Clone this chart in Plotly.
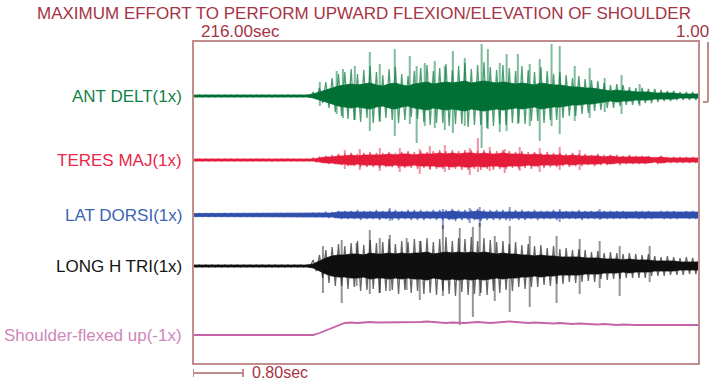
import plotly.graph_objects as go

# ---------------------------------------------------------------- data
# Sweep length (s) and sampling pitch of the envelope arrays (81 samples)
SWEEP_SEC = 8.1
N_SAMPLES = 81

# Outer excursion (upper / lower) of each EMG trace, one value per sample
ANT_DELT_UP = [1, 1, 1, 1, 1, 1, 1, 1, 1, 1, 1, 1, 1, 1, 1, 1, 1, 1, 1,
               4, 8, 14, 18, 22, 24, 27, 22, 26, 30, 24, 21, 27, 29, 22, 20, 25, 28, 31, 25,
               28, 32, 26, 30, 33, 27, 31, 34, 29, 26, 31, 28, 25, 30, 26, 24, 29, 25, 22, 24,
               21, 18, 20, 17, 16, 15, 13, 11, 12, 11, 9, 8, 8, 7, 7, 6, 5, 5, 4, 4, 4, 4]
ANT_DELT_DN = [1, 1, 1, 1, 1, 1, 1, 1, 1, 1, 1, 1, 1, 1, 1, 1, 1, 1, 1,
               3, 7, 12, 16, 20, 23, 24, 26, 22, 27, 25, 22, 24, 27, 24, 21, 23, 26, 29, 27,
               27, 30, 28, 28, 31, 29, 29, 32, 30, 28, 29, 27, 27, 28, 25, 25, 27, 24, 24, 22,
               20, 20, 18, 17, 15, 14, 12, 12, 10, 9, 9, 8, 7, 7, 6, 5, 5, 4, 4, 4, 4, 4]
# Half-height of the dense dark core
ANT_DELT_CORE = [1, 1, 1, 1, 1, 1, 1, 1, 1, 1, 1, 1, 1, 1, 1, 1, 1, 1, 1,
                 2, 4, 6, 8, 10, 11, 12, 11, 12, 13, 11, 10, 12, 13, 11, 10, 12, 13, 14, 12,
                 13, 14, 13, 14, 15, 13, 14, 15, 14, 13, 14, 13, 12, 13, 12, 11, 13, 12, 11, 11,
                 10, 9, 9, 8, 8, 7, 6, 5, 6, 5, 5, 4, 4, 4, 3, 3, 3, 3, 2, 2, 2, 2]

TERES_UP = [1, 1, 1, 1, 1, 1, 1, 1, 1, 1, 1, 1, 1, 1, 1, 1, 1, 1, 1,
            2, 3, 4, 5, 6, 6, 7, 6, 7, 8, 7, 7, 8, 7, 8, 9, 8, 9, 8, 9,
            10, 9, 10, 9, 10, 10, 9, 10, 9, 9, 10, 9, 8, 9, 8, 8, 7, 8, 7, 7,
            6, 7, 6, 6, 5, 6, 5, 5, 5, 4, 5, 4, 4, 4, 3, 4, 3, 3, 3, 3, 3, 3]
TERES_DN = [1, 1, 1, 1, 1, 1, 1, 1, 1, 1, 1, 1, 1, 1, 1, 1, 1, 1, 1,
            2, 3, 4, 4, 5, 6, 6, 7, 7, 7, 8, 7, 7, 8, 8, 8, 9, 8, 9, 9,
            9, 10, 9, 10, 10, 9, 10, 9, 10, 9, 9, 8, 9, 8, 9, 7, 8, 7, 7, 6,
            7, 6, 6, 5, 6, 5, 5, 4, 5, 4, 4, 4, 4, 3, 4, 3, 3, 3, 3, 3, 3, 3]
TERES_CORE = [1, 1, 1, 1, 1, 1, 1, 1, 1, 1, 1, 1, 1, 1, 1, 1, 1, 1, 1,
              1, 2, 3, 3, 4, 4, 5, 4, 5, 5, 5, 5, 6, 5, 6, 6, 5, 6, 6, 6,
              7, 6, 7, 6, 7, 7, 6, 7, 6, 6, 7, 6, 6, 6, 5, 6, 5, 5, 5, 5,
              4, 5, 4, 4, 4, 4, 3, 4, 3, 3, 3, 3, 3, 3, 2, 3, 2, 2, 2, 2, 2, 2]

LAT_DORSI_AMP = [1.5, 1.5, 1.5, 1.5, 1.5, 1.5, 1.5, 1.5, 1.5, 1.5, 1.5, 1.5, 1.5, 1.5, 1.5, 1.5, 1.5, 1.5, 1.5,
                 2, 2, 3, 3, 4, 4, 4, 5, 4, 4, 5, 4, 5, 5, 4, 5, 5, 5, 4, 5,
                 5, 5, 6, 5, 5, 5, 6, 5, 5, 5, 5, 4, 5, 5, 4, 5, 4, 4, 5, 4,
                 4, 4, 5, 4, 4, 4, 4, 4, 4, 4, 3, 4, 4, 4, 3, 4, 4, 4, 3, 4, 4, 4]
LAT_DORSI_CORE = [1.5, 1.5, 1.5, 1.5, 1.5, 1.5, 1.5, 1.5, 1.5, 1.5, 1.5, 1.5, 1.5, 1.5, 1.5, 1.5, 1.5, 1.5, 1.5,
                  2, 2, 2, 2, 3, 3, 3, 3, 3, 3, 3, 3, 3, 3, 3, 3, 3, 3, 3, 3,
                  3, 3, 4, 3, 3, 3, 4, 3, 3, 3, 3, 3, 3, 3, 3, 3, 3, 3, 3, 3,
                  3, 3, 3, 3, 3, 3, 3, 3, 3, 3, 2.5, 3, 3, 3, 2.5, 3, 3, 3, 2.5, 3, 3, 3]

LONG_TRI_UP = [1, 1, 1, 1, 1, 1, 1, 1, 1, 1, 1, 1, 1, 1, 1, 1, 1, 1, 1,
               6, 11, 16, 19, 22, 20, 23, 25, 21, 26, 23, 24, 27, 22, 25, 24, 27, 25, 28, 24,
               27, 29, 25, 28, 27, 29, 25, 28, 26, 24, 25, 22, 24, 21, 22, 20, 21, 18, 20, 17,
               18, 16, 17, 16, 14, 15, 13, 14, 13, 12, 13, 12, 11, 12, 10, 9, 10, 9, 8, 9, 8, 8]
LONG_TRI_DN = [1, 1, 1, 1, 1, 1, 1, 1, 1, 1, 1, 1, 1, 1, 1, 1, 1, 1, 1,
               5, 12, 17, 20, 20, 23, 21, 25, 24, 23, 27, 25, 24, 28, 24, 27, 25, 28, 27, 29,
               25, 28, 30, 26, 29, 28, 27, 29, 25, 27, 24, 25, 21, 23, 21, 21, 19, 20, 18, 18,
               16, 17, 16, 15, 16, 13, 14, 13, 13, 12, 12, 12, 12, 10, 10, 10, 9, 9, 9, 8, 8, 8]
LONG_TRI_CORE = [1, 1, 1, 1, 1, 1, 1, 1, 1, 1, 1, 1, 1, 1, 1, 1, 1, 1, 1,
                 2, 5, 8, 10, 11, 11, 12, 12, 11, 13, 12, 12, 13, 12, 13, 12, 13, 13, 14, 12,
                 13, 14, 13, 14, 13, 14, 13, 14, 13, 12, 13, 12, 12, 11, 11, 10, 11, 10, 10, 9,
                 9, 9, 9, 8, 8, 8, 7, 7, 7, 6, 7, 6, 6, 6, 5, 5, 5, 5, 4, 4, 4, 4]

# Shoulder goniometer trace (inverted, -1x)
SHOULDER = [0, 0, 0, 0, 0, 0, 0, 0, 0, 0, 0, 0, 0, 0, 0, 0, 0, 0, 0,
            0, 2, 4.5, 7, 9.5, 12, 12.5, 12, 12.5, 13, 12.5, 12.5, 13, 13, 12.5, 13, 12.5, 13, 13.5, 13,
            12.5, 12, 12.5, 12, 12, 12.5, 13, 12.5, 12, 12.5, 13, 13.5, 13, 12.5, 12, 12.5, 12, 12, 11.5, 12,
            11.5, 11, 11.5, 11, 11, 10.5, 11, 10.5, 10, 10.5, 10, 10, 10, 10, 10, 9.5, 10, 10, 10, 10, 10, 10]

# Isolated large excursions: time (s), height above / below baseline
ANT_DELT_SPK_T = [0.00, 2.03, 2.30, 2.40, 2.59, 2.83, 2.99, 3.23, 3.47, 3.58, 3.71, 3.87, 4.03, 4.16,
                  4.35, 4.62, 4.72, 4.91, 5.02, 5.20, 5.39, 5.55, 5.74, 5.87, 6.11, 6.35, 6.59, 6.86, 7.15]
ANT_DELT_SPK_UP = [23, 14, 25, 27, 30, 44, 32, 47, 40, 30, 33, 35, 30, 45,
                   38, 52, 47, 33, 42, 42, 32, 37, 52, 50, 30, 28, 18, 21, 12]
ANT_DELT_SPK_DN = [14, 10, 18, 22, 24, 35, 26, 40, 28, 47, 30, 32, 34, 37,
                   30, 52, 33, 36, 35, 28, 30, 45, 30, 38, 25, 22, 16, 18, 10]

TERES_SPK_T = [2.43, 2.67, 2.99, 3.31, 3.63, 3.79, 4.03, 4.43, 4.56, 4.75, 4.99, 5.23, 5.55, 5.87, 6.19]
TERES_SPK_UP = [10, 11, 12, 12, 11, 14, 15, 12, 22, 13, 11, 13, 12, 13, 10]
TERES_SPK_DN = [9, 10, 11, 12, 14, 10, 12, 15, 12, 11, 13, 11, 12, 10, 10]

LAT_DORSI_SPK_T = [3.15, 4.00, 4.43, 4.59, 5.07, 5.87, 6.51]
LAT_DORSI_SPK_UP = [7, 6, 7, 8, 8, 6, 6]
LAT_DORSI_SPK_DN = [6, 14, 8, 12, 6, 7, 5]

LONG_TRI_SPK_T = [0.00, 2.08, 2.38, 2.62, 2.83, 2.99, 3.15, 3.42, 3.63, 4.00, 4.27,
                  4.48, 4.59, 4.83, 5.07, 5.39, 5.82, 6.19, 6.51, 6.83, 7.31]
LONG_TRI_SPK_UP = [13, 20, 26, 23, 36, 28, 31, 28, 25, 41, 38, 39, 43, 30, 40, 30, 30, 27, 25, 20, 20]
LONG_TRI_SPK_DN = [21, 27, 37, 20, 28, 27, 25, 24, 34, 30, 59, 51, 30, 35, 46, 41, 37, 28, 22, 30, 16]

SHOULDER_SPK_T = [0.00]
SHOULDER_SPK_UP = [13]
SHOULDER_SPK_DN = [5]

CHANNELS = ["ANT DELT(1x)", "TERES MAJ(1x)", "LAT DORSI(1x)", "LONG H TRI(1x)", "Shoulder-flexed up(-1x)"]

# ---------------------------------------------------------------- styling
FONT = "Liberation Sans, Arial, sans-serif"
BOX = "rgb(192,140,140)"
MAROON = "rgb(165,52,68)"

# vertical placement of each channel baseline on the shared y axis
BASE = {"ANT DELT(1x)": 268, "TERES MAJ(1x)": 204, "LAT DORSI(1x)": 149,
        "LONG H TRI(1x)": 98, "Shoulder-flexed up(-1x)": 29}
LABEL_COLOR = {"ANT DELT(1x)": "rgb(20,130,70)", "TERES MAJ(1x)": "rgb(232,40,72)",
               "LAT DORSI(1x)": "rgb(60,100,180)", "LONG H TRI(1x)": "rgb(20,20,20)",
               "Shoulder-flexed up(-1x)": "rgb(206,135,185)"}
CORE_COLOR = {"ANT DELT(1x)": "rgb(0,112,52)", "TERES MAJ(1x)": "rgb(228,28,58)",
              "LAT DORSI(1x)": "rgb(48,78,172)", "LONG H TRI(1x)": "rgb(15,15,15)",
              "Shoulder-flexed up(-1x)": "rgb(196,100,168)"}
FRINGE_COLOR = {"ANT DELT(1x)": "rgba(0,118,56,0.7)", "TERES MAJ(1x)": "rgba(228,36,66,0.7)",
                "LAT DORSI(1x)": "rgba(48,78,172,0.7)", "LONG H TRI(1x)": "rgba(20,20,20,0.65)",
                "Shoulder-flexed up(-1x)": "rgba(196,100,168,0.8)"}
SPIKE_COLOR = {"ANT DELT(1x)": "rgba(0,120,60,0.5)", "TERES MAJ(1x)": "rgba(228,40,70,0.5)",
               "LAT DORSI(1x)": "rgba(48,78,172,0.55)", "LONG H TRI(1x)": "rgba(20,20,20,0.45)",
               "Shoulder-flexed up(-1x)": "rgba(196,100,168,0.8)"}

PITCH = SWEEP_SEC / (N_SAMPLES - 1)
T = [i * PITCH for i in range(N_SAMPLES)]

# pixel geometry of the plotting box inside the 711x382 page
L, R, TOP, BOT = 193, 699, 41, 364


def px(x):
    return (x - L) / (R - L)


def py(y):
    return (BOT - y) / (BOT - TOP)


fig = go.Figure()


def add_fringe(name, up, dn):
    # oscillating trace: each sample swings to its upper then lower excursion
    b = BASE[name]
    xs, ys = [], []
    for t, u, d in zip(T, up, dn):
        xs += [t, t + PITCH / 2]
        ys += [b + u, b - d]
    fig.add_trace(go.Scatter(x=xs, y=ys, mode="lines",
                             line=dict(color=FRINGE_COLOR[name], width=1.3),
                             hoverinfo="skip", showlegend=False))


def add_core(name, amp):
    b = BASE[name]
    xs = T + T[::-1]
    ys = [b + a for a in amp] + [b - a for a in amp][::-1]
    fig.add_trace(go.Scatter(x=xs, y=ys, mode="lines", fill="toself",
                             fillcolor=CORE_COLOR[name],
                             line=dict(color=CORE_COLOR[name], width=0.8),
                             hoverinfo="skip", showlegend=False))


def add_spikes(name, ts, ups, dns):
    b = BASE[name]
    xs, ys = [], []
    for t, u, d in zip(ts, ups, dns):
        xs += [t, t, None]
        ys += [b - d, b + u, None]
    fig.add_trace(go.Scatter(x=xs, y=ys, mode="lines",
                             line=dict(color=SPIKE_COLOR[name], width=2),
                             hoverinfo="skip", showlegend=False))


for name, up, dn, core, st, su, sd in [
    ("ANT DELT(1x)", ANT_DELT_UP, ANT_DELT_DN, ANT_DELT_CORE, ANT_DELT_SPK_T, ANT_DELT_SPK_UP, ANT_DELT_SPK_DN),
    ("TERES MAJ(1x)", TERES_UP, TERES_DN, TERES_CORE, TERES_SPK_T, TERES_SPK_UP, TERES_SPK_DN),
    ("LAT DORSI(1x)", LAT_DORSI_AMP, LAT_DORSI_AMP, LAT_DORSI_CORE, LAT_DORSI_SPK_T, LAT_DORSI_SPK_UP, LAT_DORSI_SPK_DN),
    ("LONG H TRI(1x)", LONG_TRI_UP, LONG_TRI_DN, LONG_TRI_CORE, LONG_TRI_SPK_T, LONG_TRI_SPK_UP, LONG_TRI_SPK_DN),
]:
    add_spikes(name, st, su, sd)
    add_fringe(name, up, dn)
    add_core(name, core)

add_spikes("Shoulder-flexed up(-1x)", SHOULDER_SPK_T, SHOULDER_SPK_UP, SHOULDER_SPK_DN)
fig.add_trace(go.Scatter(x=T, y=[BASE["Shoulder-flexed up(-1x)"] + v for v in SHOULDER],
                         mode="lines", line=dict(color=CORE_COLOR["Shoulder-flexed up(-1x)"], width=1.8),
                         hoverinfo="skip", showlegend=False))

# channel input markers just left of the box
fig.add_trace(go.Scatter(x=[-0.06] * len(CHANNELS), y=[BASE[c] for c in CHANNELS],
                         mode="markers", cliponaxis=False,
                         marker=dict(symbol="triangle-right", size=6,
                                     color=[SPIKE_COLOR[c] for c in CHANNELS]),
                         hoverinfo="skip", showlegend=False))

annotations = []
for c in CHANNELS:
    annotations.append(dict(x=px(184), xref="paper", y=BASE[c], yref="y", text=c,
                            showarrow=False, xanchor="right", yanchor="middle",
                            font=dict(family=FONT, size=17, color=LABEL_COLOR[c])))

annotations += [
    dict(x=px(364), y=py(14), xref="paper", yref="paper", showarrow=False,
         text="MAXIMUM EFFORT TO PERFORM UPWARD FLEXION/ELEVATION OF SHOULDER",
         font=dict(family=FONT, size=17, color=MAROON), xanchor="center", yanchor="middle"),
    dict(x=px(240), y=py(32), xref="paper", yref="paper", showarrow=False, text="216.00sec",
         font=dict(family=FONT, size=17, color=MAROON), xanchor="center", yanchor="middle"),
    dict(x=px(711), y=py(32), xref="paper", yref="paper", showarrow=False, text="1.00",
         font=dict(family=FONT, size=17, color=MAROON), xanchor="right", yanchor="middle"),
    dict(x=px(251), y=py(372), xref="paper", yref="paper", showarrow=False, text="0.80sec",
         font=dict(family=FONT, size=16, color=MAROON), xanchor="left", yanchor="middle",
         borderpad=0),
]

shapes = [
    # plotting box
    dict(type="rect", xref="paper", yref="paper", x0=0, x1=1, y0=0, y1=1,
         line=dict(color=BOX, width=2)),
    # 0.80 s time scale bar
    dict(type="line", xref="x", yref="paper", x0=0, x1=0.8, y0=py(373), y1=py(373),
         line=dict(color=BOX, width=2)),
    dict(type="line", xref="x", yref="paper", x0=0, x1=0, y0=py(369), y1=py(377),
         line=dict(color=BOX, width=2)),
    dict(type="line", xref="x", yref="paper", x0=0.8, x1=0.8, y0=py(369), y1=py(377),
         line=dict(color=BOX, width=2)),
    # amplitude scale bracket (1.00)
    dict(type="line", xref="paper", yref="paper", x0=px(708), x1=px(708), y0=py(42), y1=py(102),
         line=dict(color=BOX, width=2)),
    dict(type="line", xref="paper", yref="paper", x0=px(703), x1=px(708), y0=py(102), y1=py(102),
         line=dict(color=BOX, width=2)),
]

fig.update_layout(
    width=711, height=382,
    margin=dict(l=L, r=711 - R, t=TOP, b=382 - BOT),
    paper_bgcolor="white", plot_bgcolor="white",
    xaxis=dict(range=[0, SWEEP_SEC], visible=False, fixedrange=True),
    yaxis=dict(range=[0, BOT - TOP], visible=False, fixedrange=True),
    annotations=annotations, shapes=shapes,
)

fig.write_html("out.html")
